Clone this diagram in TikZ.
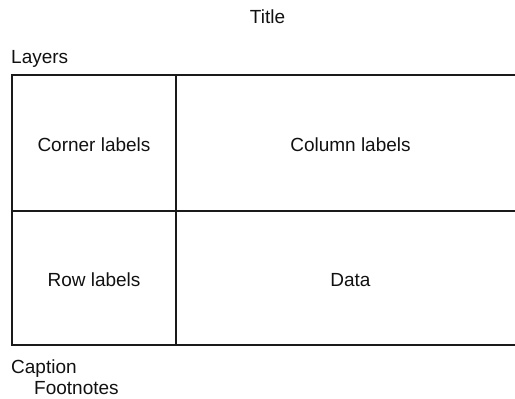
\documentclass[tikz,border=0pt]{standalone}
\usepackage{fontspec}
\setsansfont{Liberation Sans}
\usepackage{xcolor}
\definecolor{lineBlack}{HTML}{1A1A1A}
\definecolor{darkText}{HTML}{111111}
\usepackage{tikz}
\usetikzlibrary{
    positioning,
    calc
}
\tikzset{
    % Base style for all texts
    plain text/.style={
        font=\sffamily\fontsize{19}{22}\selectfont,
        text=darkText,
        inner sep=0pt,
        anchor=base,
    },
    % Left aligned texts outside the table
    side text/.style={
        plain text,
        anchor=base west,
    },
    % Table rules
    rule/.style={
        draw=lineBlack,
        line width=1.8pt,
        line cap=rect,
    },
}

\begin{document}
\begin{tikzpicture}[x=1pt, y=-1pt]
    \useasboundingbox (0,0) rectangle (515,399);

    % Table frame, open on the right
    \draw [rule] (518,75) -- (12,75) -- (12,345) -- (518,345);
    \draw [rule] (176,75) -- (176,345);
    \draw [rule] (12,211) -- (518,211);

    \node (title) [plain text] at (267.5,23) {Title};
    \node (layers) [side text] at (11,63) {Layers};
    \node (corner) [plain text] at (94,151.5) {Corner labels};
    \node (colhead) [plain text] at (350.5,151.5) {Column labels};
    \node (rowhead) [plain text] at (94,286.5) {Row labels};
    \node (data) [plain text] at (350.5,286.5) {Data};
    \node (caption) [side text] at (11,373.5) {Caption};
    \node (footnotes) [side text] at (34,394) {Footnotes};
\end{tikzpicture}
\end{document}
